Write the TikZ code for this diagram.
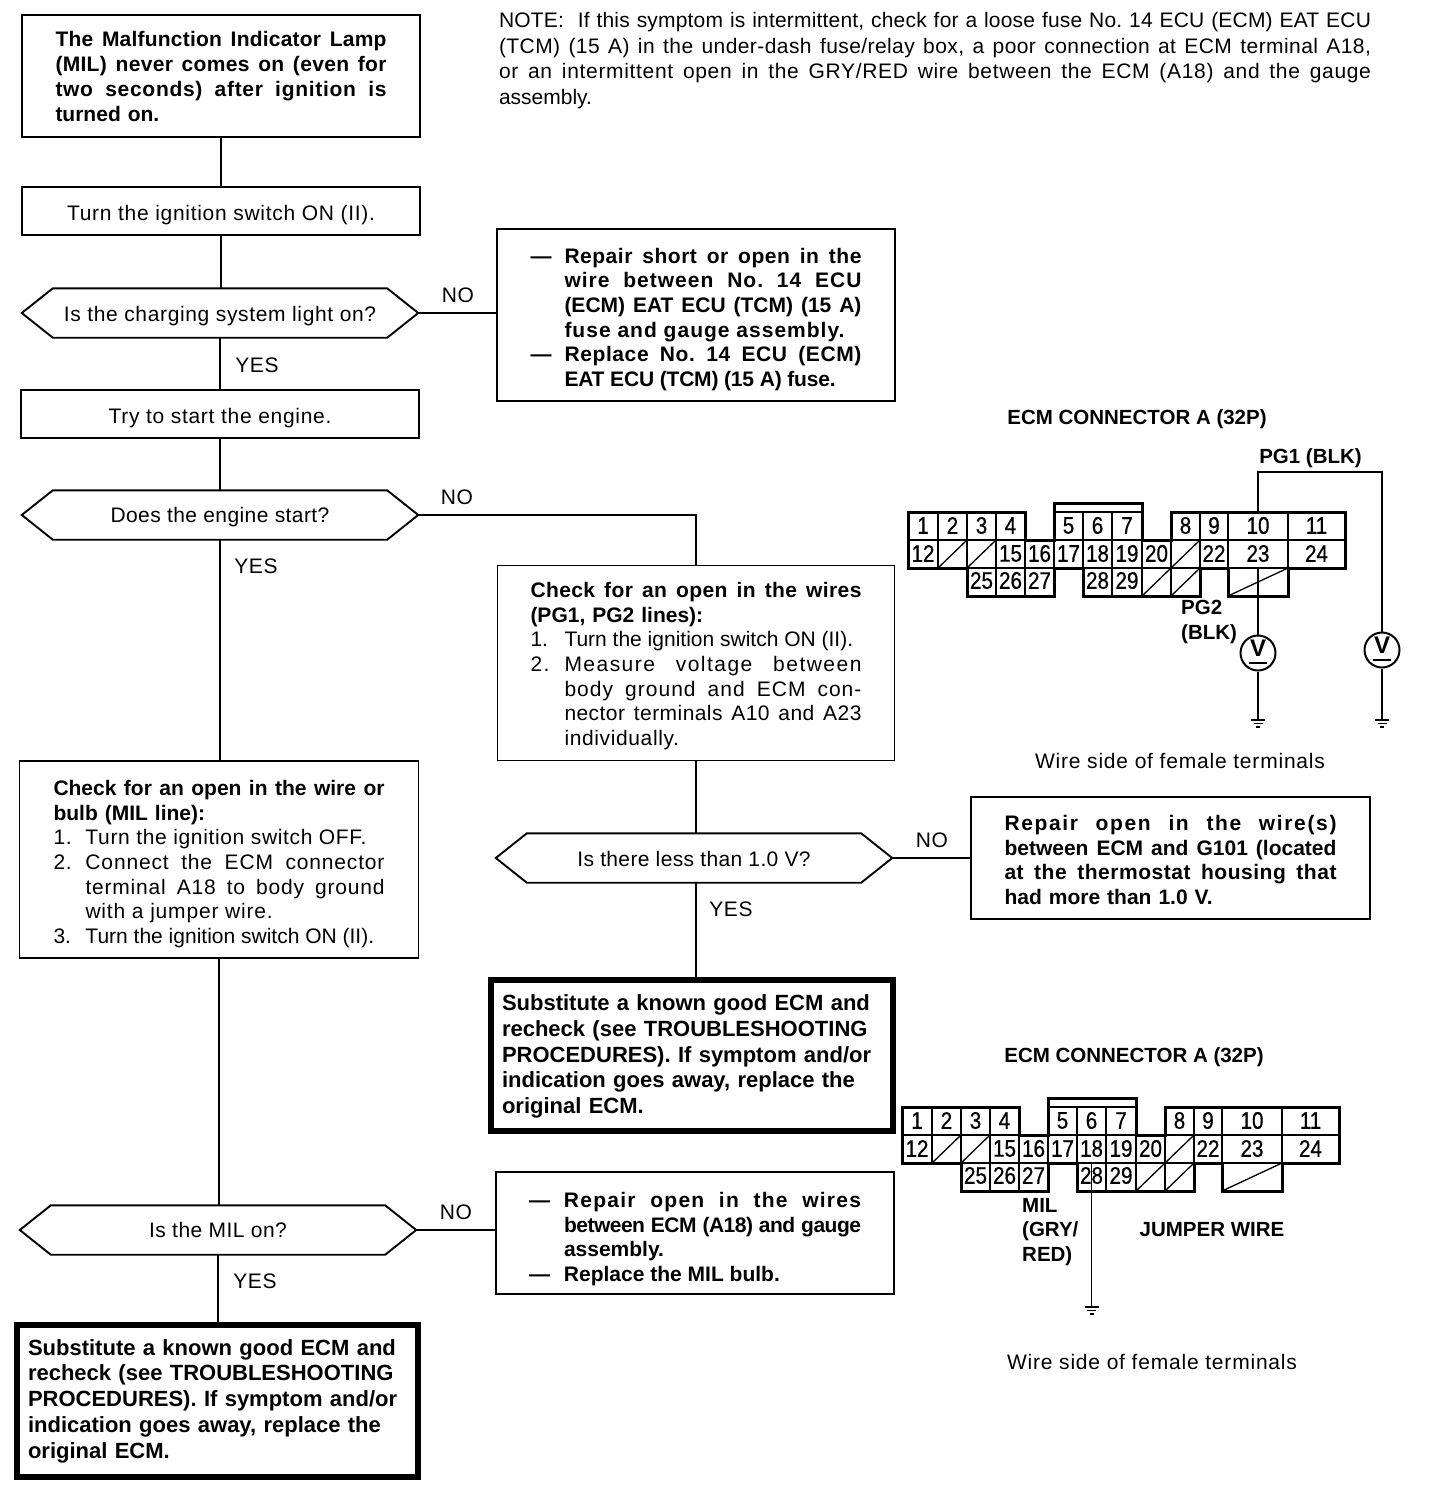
\documentclass[tikz,border=0pt]{standalone}
\usepackage{fontspec}
\setmainfont{Liberation Sans}
\newfontfamily\cellfont[FakeStretch=0.86,FakeBold=0.6]{Liberation Sans}
\AtBeginDocument{\frenchspacing}
\newcommand\J[2][0]{\leavevmode\hbox to\hsize{\spaceskip=0pt\xspaceskip=0pt\addfontfeature{LetterSpace=#1}#2}}
\newcommand\HJ[4][0]{\leavevmode\hbox to\hsize{\spaceskip=0pt\xspaceskip=0pt\addfontfeature{LetterSpace=#1}\hbox to #2{#3\hss}#4}}
\newcommand\HN[4][0]{\leavevmode\hbox{\spaceskip=0pt\xspaceskip=0pt\addfontfeature{LetterSpace=#1}\hbox to #2{#3\hss}#4}}
\newcommand\rgfont{\fontsize{21}{24.7}\selectfont\addfontfeature{LetterSpace=2.8}}
\newcommand\bffont{\fontsize{21}{24.7}\selectfont\bfseries}
\newcommand\bigfont{\fontsize{22}{25.75}\selectfont\bfseries}
\newcommand\ttlfont{\fontsize{20.5}{24.7}\selectfont\bfseries}
\newcommand\vfont{\fontsize{24}{24}\selectfont\bfseries}
\newcommand\ls[1]{\addfontfeature{LetterSpace=#1}}
\tikzset{
  ln/.style={line width=1.9pt,black},
  pbox/.style={draw,ln,rectangle,inner sep=0pt,align=left,font=\bffont},
  rbox/.style={draw,ln,rectangle,inner sep=0pt,align=center,font=\rgfont,text height=19.5pt,text depth=0pt},
  thickbox/.style={draw,black,line width=6pt,rectangle,inner sep=0pt,align=left,font=\bigfont},
  hexlab/.style={rectangle,inner sep=0pt,minimum width=396pt,minimum height=49pt,font=\rgfont},
  lab/.style={inner sep=0pt,font=\rgfont},
  blab/.style={inner sep=0pt,font=\ttlfont,align=left},
  cellnum/.style={inner sep=0pt,font=\fontsize{24}{24}\selectfont\cellfont},
  outline/.style={line width=3pt,black,line join=miter},
  grid/.style={line width=1.3pt,black},
  wire/.style={line width=2.4pt,black},
  thinwire/.style={line width=1.5pt,black},
  vm/.style={circle,draw,black,line width=2pt,minimum size=35pt,inner sep=0pt,fill=white},
  vlab/.style={inner sep=0pt,font=\vfont},
}
\newcommand\hexnode[5]{%
  \node[hexlab,#5] (#1) at (#2,#3) {#4};
  \draw[ln] (#1.west)--([xshift=31pt]#1.north west)--([xshift=-31pt]#1.north east)--(#1.east)
    --([xshift=-31pt]#1.south east)--([xshift=31pt]#1.south west)--cycle;}
\newcommand\gnd[1]{%
  \draw[thinwire] ([xshift=-7pt]#1)--([xshift=7pt]#1);
  \draw[thinwire] ([xshift=-4.5pt,yshift=-3.5pt]#1)--([xshift=4.5pt,yshift=-3.5pt]#1);
  \draw[thinwire] ([xshift=-2pt,yshift=-7pt]#1)--([xshift=2pt,yshift=-7pt]#1);}
\newcommand\ecmconn[1]{%
  \draw[grid] (1054,512)--(1142,512) (908,540)--(1345,540)
    (967,568)--(1054,568) (1083,568)--(1200,568) (1228,568)--(1288,568);
  \draw[grid] (938,512)--(938,568) (967,512)--(967,540) (996,512)--(996,596)
    (1025,540)--(1025,596) (1054,540)--(1054,568) (1083,512)--(1083,568) (1112,512)--(1112,596)
    (1142,540)--(1142,596) (1171,568)--(1171,596) (1200,512)--(1200,568) (1228,512)--(1228,568)
    (1288,512)--(1288,568) (967,540)--(967,568) (1171,540)--(1171,568);
  \draw[grid] (938,568)--(967,540) (967,568)--(996,540) (1171,568)--(1200,540)
    (1142,596)--(1171,568) (1171,596)--(1200,568) (1228,596)--(1288,568);
  \draw[outline] (908,512)--(1025,512)--(1025,540)--(1054,540)--(1054,503)--(1142,503)--(1142,540)
    --(1171,540)--(1171,512)--(1345,512)--(1345,568)--(1288,568)--(1288,596)--(1228,596)--(1228,568)
    --(1200,568)--(1200,596)--(1083,596)--(1083,568)--(1054,568)--(1054,596)--(967,596)--(967,568)
    --(908,568)--cycle;
  \foreach \t/\x/\y in {1/923/525.5,2/952.5/525.5,3/981.5/525.5,4/1010.5/525.5,5/1068.5/525.5,6/1097.5/525.5,7/1127/525.5,
    8/1185.5/525.5,9/1214/525.5,10/1258/525.5,11/1316.5/525.5,
    12/923/553.5,15/1010.5/553.5,16/1039.5/553.5,17/1068.5/553.5,18/1097.5/553.5,19/1127/553.5,20/1156.5/553.5,
    22/1214/553.5,23/1258/553.5,24/1316.5/553.5,
    25/981.5/580.5,26/1010.5/580.5,27/1039.5/580.5,28/1097.5/580.5,29/1127/580.5}
    {\node[cellnum] (#1-\t) at (\x,\y) {\t};}
}
\begin{document}
\begin{tikzpicture}[x=1pt,y=-1pt]
\useasboundingbox (0,0) rectangle (1440,1494);
% flow boxes
\node[pbox,minimum width=398pt,minimum height=122pt,text width=331pt,text depth=73.3pt,font=\fontsize{21}{25}\selectfont\bfseries] (a) at (221,76)
 {\J[1]{The Malfunction Indicator Lamp}\\\J[1.5]{(MIL) never comes on (even for}\\\J[3.4]{two seconds) after ignition is}\\turned on.};
\node[rbox,minimum width=398pt,minimum height=48pt] (b) at (221,211) {\ls{3.4}Turn the ignition switch ON (II).};
\hexnode{d1}{220}{313}{\ls{3.1}Is the charging system light on?}{text height=17.5pt,text depth=0pt}
\node[pbox,minimum width=398pt,minimum height=172pt,text width=331pt,text depth=118.9pt] (r1) at (696,315)
 {\HJ[2.5]{34pt}{—}{Repair short or open in the}\\\HJ[4.8]{34pt}{}{wire between No. 14 ECU}\\\HJ{34pt}{}{(ECM) EAT ECU (TCM) (15 A)}\\\HN[4.8]{34pt}{}{fuse and gauge assembly.}\\\HJ[2.9]{34pt}{—}{Replace No. 14 ECU (ECM)}\\\HN[-0.9]{34pt}{}{EAT ECU (TCM) (15 A) fuse.}};
\node[rbox,minimum width=398pt,minimum height=48pt] (c) at (220,414) {\ls{3.4}Try to start the engine.};
\hexnode{d2}{220}{515}{\ls{2}Does the engine start?}{text depth=0.4pt}
\node[pbox,minimum width=397pt,minimum height=195pt,text width=331pt,text depth=146.6pt] (r2) at (696,663)
 {\J[1.9]{Check for an open in the wires}\\(PG1, PG2 lines):\\{\mdseries\HN{34pt}{1.}{Turn the ignition switch ON (II).}}\\{\mdseries\HJ[7]{34pt}{2.}{Measure voltage between}}\\{\mdseries\HJ[4.9]{34pt}{}{body ground and ECM con-}}\\{\mdseries\HJ[2.1]{34pt}{}{nector terminals A10 and A23}}\\{\mdseries\HN[3]{34pt}{}{individually.}}};
\hexnode{d3}{694}{858}{\ls{1.7}Is there less than 1.0 V?}{text height=17.5pt,text depth=0pt}
\node[pbox,minimum width=399pt,minimum height=122pt,text width=332pt,text depth=70.4pt] (r3) at (1170.5,858)
 {\J[7.8]{Repair open in the wire(s)}\\\J{between ECM and G101 (located}\\\J[2.5]{at the thermostat housing that}\\had more than 1.0 V.};
\node[thickbox,minimum width=402pt,minimum height=151pt,text width=380pt,text depth=105.6pt] (r4) at (692,1055.5)
 {Substitute a known good ECM and\\recheck (see TROUBLESHOOTING\\PROCEDURES). If symptom and/or\\indication goes away, replace the\\original ECM.};
\node[pbox,minimum width=399pt,minimum height=197pt,text width=331pt,text depth=143.6pt] (l1) at (219,859.5)
 {\J{Check for an open in the wire or}\\bulb (MIL line):\\{\mdseries\HN[3.1]{32pt}{1.}{Turn the ignition switch OFF.}}\\{\mdseries\HJ[4]{32pt}{2.}{Connect the ECM connector}}\\{\mdseries\HJ[3.8]{32pt}{}{terminal A18 to body ground}}\\{\mdseries\HN[3.9]{32pt}{}{with a jumper wire.}}\\{\mdseries\HN{32pt}{3.}{Turn the ignition switch ON (II).}}};
\hexnode{d4}{218}{1230}{\ls{2.2}Is the MIL on?}{}
\node[pbox,minimum width=398pt,minimum height=122pt,text width=332pt,text depth=66.4pt] (r5) at (695,1233)
 {\HJ[6]{35pt}{—}{Repair open in the wires}\\\HJ[-2.4]{35pt}{}{between ECM (A18) and gauge}\\\HN{35pt}{}{assembly.}\\\HN{35pt}{—}{Replace the MIL bulb.}};
\node[thickbox,minimum width=401pt,minimum height=152pt,text width=379pt] (l2) at (217.5,1401)
 {Substitute a known good ECM and\\recheck (see TROUBLESHOOTING\\PROCEDURES). If symptom and/or\\indication goes away, replace the\\original ECM.};
% note
\node[inner sep=0pt,text width=872pt,align=left,text depth=77.5pt,font=\fontsize{21}{25.7}\selectfont] (note) at (935,58.5)
 {\J[0.9]{NOTE:\ \ If this symptom is intermittent, check for a loose fuse No. 14 ECU (ECM) EAT ECU}\\
  \J[2]{(TCM) (15 A) in the under-dash fuse/relay box, a poor connection at ECM terminal A18,}\\
  \J[3.2]{or an intermittent open in the GRY/RED wire between the ECM (A18) and the gauge}\\assembly.};
% connectors
\draw[ln] (a.south)--(a.south |- b.north);
\draw[ln] (b.south)--(b.south |- d1.north);
\draw[ln] (d1.south)--(d1.south |- c.north);
\draw[ln] (c.south)--(c.south |- d2.north);
\draw[ln] (d2.south)--(d2.south |- l1.north);
\draw[ln] (l1.south)--(l1.south |- d4.north);
\draw[ln] (d4.south)--(d4.south |- l2.north);
\draw[ln] (d1.east)--(d1.east -| r1.west);
\draw[ln] (d2.east)-|(r2.north);
\draw[ln] (r2.south)--(r2.south |- d3.north);
\draw[ln] (r2.south |- d3.south)--(r2.south |- r4.north);
\draw[ln] (d3.east)--(d3.east -| r3.west);
\draw[ln] (d4.east)--(d4.east -| r5.west);
% yes/no labels
\node[lab] (no1) at (458,295) {NO};
\node[lab] (yes1) at (257,365) {YES};
\node[lab] (no2) at (457,497) {NO};
\node[lab] (yes2) at (256,566) {YES};
\node[lab] (no3) at (932,840) {NO};
\node[lab] (yes3) at (731,909) {YES};
\node[lab] (no4) at (456,1212) {NO};
\node[lab] (yes4) at (255,1281) {YES};
% connector A, upper
\ecmconn{up}
\node[blab] (t1) at (1137,419) {ECM CONNECTOR A (32P)};
\node[blab] (pg1) at (1310.5,458) {PG1 (BLK)};
\node[blab,anchor=west] (pg2) at (1181,622) {PG2\\(BLK)};
\node[lab,font=\rgfont\addfontfeature{LetterSpace=3.8}] (w1) at (1180,761) {Wire side of female terminals};
\node[vm] (v1) at (1258,653) {};
\node[vm] (v2) at (1382,650) {};
\node[vlab] (v1t) at (1258,648) {V};
\node[vlab] (v2t) at (1382,645) {V};
\draw[wire] ([xshift=-9pt,yshift=-10pt]v1.center)--([xshift=9pt,yshift=-10pt]v1.center);
\draw[wire] ([xshift=-9pt,yshift=-10pt]v2.center)--([xshift=9pt,yshift=-10pt]v2.center);
\coordinate (p23) at (1258,568);
\coordinate (p10) at (1258,512);
\coordinate (top) at (1382,472);
\coordinate (g1) at (1258,720);
\coordinate (g2) at (1382,720);
\draw[wire] (p23)--(v1.north);
\draw[wire] (p10)|-(top)--(v2.north);
\draw[thinwire] (v1.south)--(g1);
\draw[thinwire] (v2.south)--(g2);
\gnd{g1}
\gnd{g2}
% connector A, lower
\begin{scope}[shift={(-6,595)}]
\ecmconn{lo}
\end{scope}
\node[blab] (t2) at (1134,1057) {ECM CONNECTOR A (32P)};
\node[blab,anchor=west] (mil) at (1022,1232) {MIL\\(GRY/\\RED)};
\node[blab] (jw) at (1212,1230) {JUMPER WIRE};
\node[lab,font=\rgfont\addfontfeature{LetterSpace=3.8}] (w2) at (1152,1362) {Wire side of female terminals};
\coordinate (p18) at (1091.5,1162);
\coordinate (g3) at (1091.5,1307);
\draw[thinwire] (p18)--(g3);
\gnd{g3}
\end{tikzpicture}
\end{document}
